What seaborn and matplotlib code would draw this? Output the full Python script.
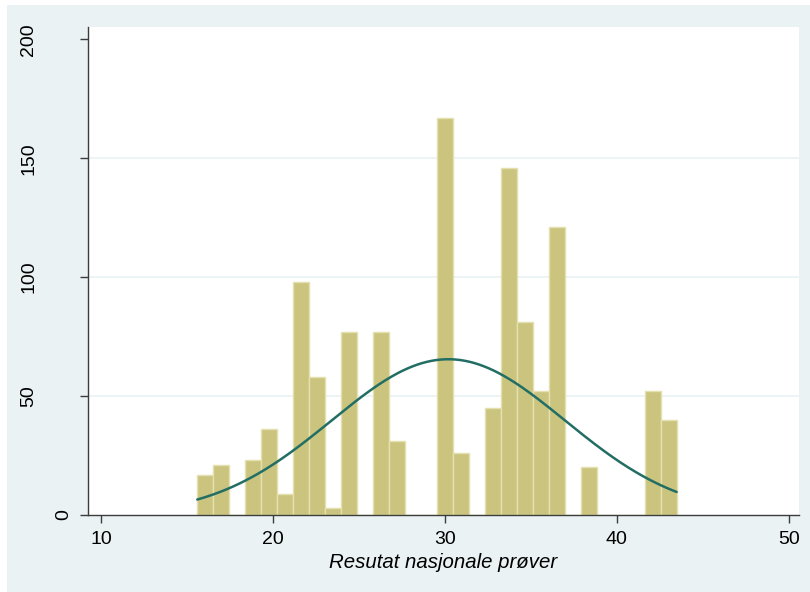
import numpy as np
import pandas as pd
import matplotlib
matplotlib.use("Agg")
import matplotlib.pyplot as plt
import seaborn as sns
from matplotlib.patches import Rectangle

# ---- data ----
bin_start = 15.605
bin_width = 0.929
counts = [17, 21, 0, 23, 36, 9, 98, 58, 3, 77, 0, 77, 31, 0, 0,
          167, 26, 0, 45, 146, 81, 52, 121, 0, 20, 0, 0, 0, 52, 40]
norm_mean = 30.2
norm_sd = 6.79
x_ticks = [10, 20, 30, 40, 50]
y_ticks = [0, 50, 100, 150, 200]
x_label = "Resutat nasjonale prøver"

n_bins = len(counts)
edges = bin_start + bin_width * np.arange(n_bins + 1)
centers = (edges[:-1] + edges[1:]) / 2
df = pd.DataFrame({"center": centers, "count": np.array(counts, dtype=float)})

total = sum(counts)
xs = np.linspace(edges[0], edges[-1], 300)
dens = total * bin_width * np.exp(-0.5 * ((xs - norm_mean) / norm_sd) ** 2) / (norm_sd * np.sqrt(2 * np.pi))
curve = pd.DataFrame({"x": xs, "y": dens})

sns.set_theme(style="white")
plt.rcParams["font.family"] = ["Liberation Sans", "DejaVu Sans"]
plt.rcParams["text.color"] = "black"
plt.rcParams["xtick.color"] = "black"
plt.rcParams["ytick.color"] = "black"

fig = plt.figure(figsize=(8.10, 5.92), dpi=100)
fig.patch.set_facecolor("white")
fig.patches.append(Rectangle((7 / 810, 0), 1 - 7 / 810, 1 - 5 / 592,
                             transform=fig.transFigure, facecolor="#EAF2F3",
                             edgecolor="none", zorder=-10))

ax_left, ax_right, ax_top, ax_bottom = 88, 799, 27, 515
ax = fig.add_axes([ax_left / 810, 1 - ax_bottom / 592,
                   (ax_right - ax_left) / 810, (ax_bottom - ax_top) / 592])
ax.set_facecolor("white")

for yv in y_ticks[1:-1]:
    ax.axhline(yv, color="#EAF2F3", lw=1.2, zorder=0)

sns.histplot(data=df, x="center", weights="count", bins=n_bins,
             binrange=(float(edges[0]), float(edges[-1])), ax=ax,
             color="#CBC47F", edgecolor="#E4E0B0", linewidth=1.0, alpha=1.0,
             zorder=2)
sns.lineplot(data=curve, x="x", y="y", ax=ax, color="#236E64", lw=1.8, zorder=3)

ax.set_xlim(9.25, 50.59)
ax.set_ylim(0, 205.2)
ax.set_xticks(x_ticks)
ax.set_yticks(y_ticks)
ax.set_xticklabels([str(t) for t in x_ticks], fontsize=14, color="black")
ax.set_yticklabels([""] * len(y_ticks))
ax.tick_params(axis="both", direction="out", length=5.8, width=1, color="#3C3C3C",
               bottom=True, left=True)
ax.tick_params(axis="x", pad=5.5)

# vertical y tick labels, positioned as in the reference
ytrans = ax.get_yaxis_transform()
width_px = ax_right - ax_left
for t in y_ticks:
    cx = 63.5 if t == 0 else 29.0
    ax.text((cx - ax_left) / width_px, t, str(t), transform=ytrans,
            rotation=90, ha="center", va="center", fontsize=14, color="black",
            clip_on=False)

ax.set_xlabel(x_label, fontsize=14.7, style="italic", labelpad=4, color="black")
ax.set_ylabel("")
ax.grid(False)
for side in ["top", "right"]:
    ax.spines[side].set_visible(False)
for side in ["left", "bottom"]:
    ax.spines[side].set_color("#3C3C3C")
    ax.spines[side].set_linewidth(1.0)

fig.savefig("out.png", dpi=100, facecolor=fig.get_facecolor())
